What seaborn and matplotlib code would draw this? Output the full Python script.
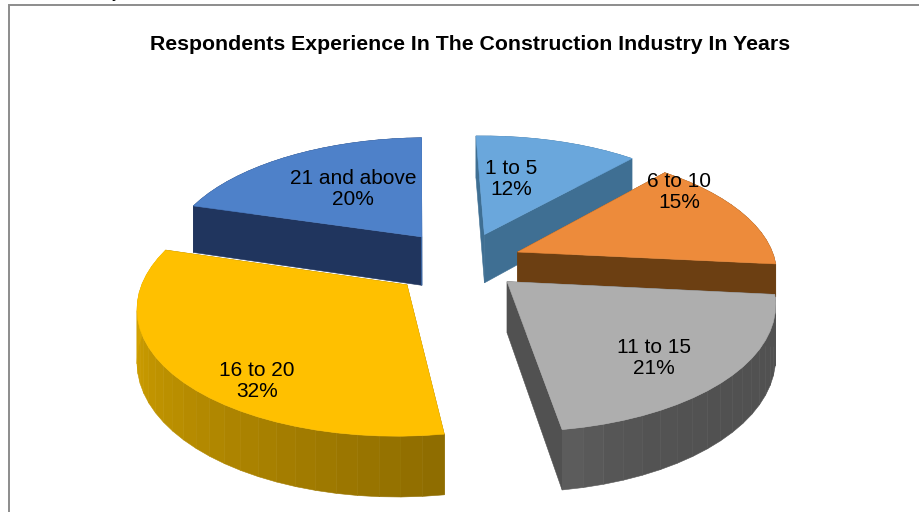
import numpy as np
import pandas as pd
import matplotlib
matplotlib.use("Agg")
import matplotlib.pyplot as plt
from matplotlib.colors import to_rgb
import seaborn as sns

# ---- data ----
categories = ["1 to 5", "6 to 10", "11 to 15", "16 to 20", "21 and above"]
percent = [12, 15, 21, 32, 20]
title = "Respondents Experience In The Construction Industry In Years"

# ---- styles ----
top_colors = ["#6AA7DC", "#ED8B3B", "#AEAEAE", "#FFC000", "#4E81C9"]
side_start = ["#3F6F93", "#6C3F12", "#515151", "#8F6D00", "#20355E"]
side_end = ["#3F6F93", "#6C3F12", "#5C5C5C", "#E2AE00", "#20355E"]
end_face = ["#3F6F93", "#6C3F12", "#515151", "#8F6D00", "#3E6CAB"]
ramp_power = [1, 1, 6, 1, 1]
explode = [0.25, 0.23, 0.23, 0.28, 0.27]
depth_scale = [1.0, 0.66, 1.0, 1.0, 1.0]
draw_order = [0, 4, 1, 2, 3]
label_xy = [(511, 179), (679, 192), (654, 358), (257, 381), (353, 189)]

CX, CY, RX, RY, DEPTH, PERSP, ROTATION = 463, 262, 258, 121, 50, 0.15, -1.5

sns.set_theme(style="white")
plt.rcParams["font.family"] = ["Liberation Sans", "DejaVu Sans"]

df = pd.DataFrame({"category": categories, "percent": percent})
df["end"] = df["percent"].cumsum() / df["percent"].sum() * 360 + ROTATION
df["start"] = df["end"] - df["percent"] / df["percent"].sum() * 360


def project(x, y, z=0.0):
    w = 1.0 / (1.0 + PERSP * np.asarray(y))
    return CX + RX * np.asarray(x) * w, CY - RY * np.asarray(y) * w + DEPTH * z * w


fig = plt.figure(figsize=(9.2, 5.12), dpi=100)
ax = fig.add_axes([0, 0, 1, 1])
ax.set_xlim(0, 920)
ax.set_ylim(512, 0)
ax.axis("off")


def face(xs, ys, color, zorder):
    ax.fill(xs, ys, facecolor=color, edgecolor=color, linewidth=0.4, zorder=zorder)


for rank, i in enumerate(draw_order):
    row = df.iloc[i]
    base_z = 10 * (rank + 1)
    mid = np.radians((row["start"] + row["end"]) / 2)
    ox, oy = explode[i] * np.sin(mid), explode[i] * np.cos(mid)
    th = np.radians(np.linspace(row["start"], row["end"], int(row["percent"] * 3.6 / 4) + 2))
    rim_x, rim_y = ox + np.sin(th), oy + np.cos(th)
    dz = depth_scale[i]

    # outer wall in shaded strips
    c0, c1 = np.array(to_rgb(side_start[i])), np.array(to_rgb(side_end[i]))
    for k in range(len(th) - 1):
        t = (k / max(len(th) - 2, 1)) ** ramp_power[i]
        wx = np.array([rim_x[k], rim_x[k + 1], rim_x[k + 1], rim_x[k]])
        wy = np.array([rim_y[k], rim_y[k + 1], rim_y[k + 1], rim_y[k]])
        wz = np.array([0, 0, dz, dz])
        sx, sy = project(wx, wy, wz)
        face(sx, sy, tuple(c0 + (c1 - c0) * t), base_z)

    # radial faces
    for k, col in ((0, side_start[i]), (-1, end_face[i])):
        wx = np.array([ox, rim_x[k], rim_x[k], ox])
        wy = np.array([oy, rim_y[k], rim_y[k], oy])
        wz = np.array([0, 0, dz, dz])
        sx, sy = project(wx, wy, wz)
        face(sx, sy, col, base_z + 1)

    # top
    sx, sy = project(np.r_[ox, rim_x], np.r_[oy, rim_y])
    face(sx, sy, top_colors[i], base_z + 2)

for i, (lx, ly) in enumerate(label_xy):
    ax.text(lx, ly, f"{categories[i]}\n{percent[i]}%", ha="center", va="center",
            fontsize=15, color="black", linespacing=1.15, zorder=100)

ax.text(470.5, 44.5, title, ha="center", va="center", fontsize=15.3,
        fontweight="bold", color="black", zorder=100)
ax.text(116, -3, "y", ha="center", va="baseline", fontsize=13, color="black")

ax.plot([9.5, 9.5, 920], [512, 4.5, 4.5], color="#8C8C8C", lw=1.4, zorder=1,
        solid_joinstyle="miter")
sns.despine(ax=ax, left=True, bottom=True)
fig.savefig("out.png", dpi=100)
